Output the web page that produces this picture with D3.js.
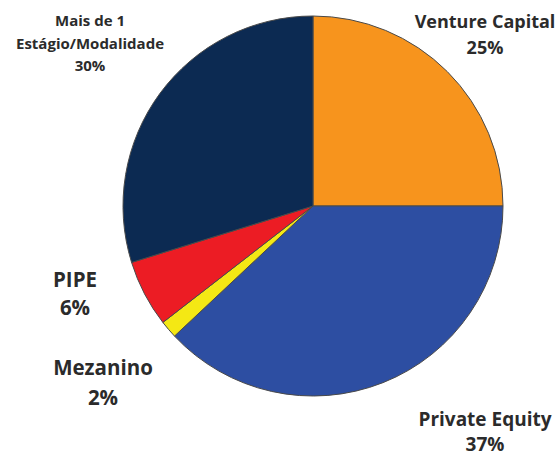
<!DOCTYPE html>
<html>
<head>
<meta charset="utf-8">
<script src="https://cdn.jsdelivr.net/npm/d3@7"></script>
<style>
  body { margin: 0; background: #fff; }
  text { font-family: "Open Sans", sans-serif; font-weight: bold; fill: #2b2b2b; }
</style>
</head>
<body>
<div id="chart"></div>
<script>
  const width = 558;
  const height = 459;

  // slices, clockwise from 12 o'clock
  const categories = ["Venture Capital", "Private Equity", "Mezanino", "PIPE", "Mais de 1 Estágio/Modalidade"];
  const values = [25, 38, 1.5, 5.7, 29.8];
  const percentLabels = ["25%", "37%", "2%", "6%", "30%"];
  const colors = ["#F7941D", "#2D4EA2", "#F4E814", "#EC1C24", "#0C2A52"];

  const cx = 313, cy = 206, radius = 190;

  const svg = d3.select("#chart")
    .append("svg")
    .attr("width", width)
    .attr("height", height);

  const pie = d3.pie().sort(null).value(d => d.value);
  const arc = d3.arc().innerRadius(0).outerRadius(radius);

  const data = categories.map((c, i) => ({ name: c, value: values[i], color: colors[i] }));

  svg.append("g")
    .attr("transform", `translate(${cx},${cy})`)
    .selectAll("path")
    .data(pie(data))
    .enter()
    .append("path")
    .attr("d", arc)
    .attr("fill", d => d.data.color)
    .attr("stroke", "#4a4a4a")
    .attr("stroke-width", 1);

  // label placement (multi-line, centered)
  const labelSpecs = [
    { lines: ["Venture Capital", percentLabels[0]], x: 485, y: 28, size: 18, lh: 26 },
    { lines: ["Private Equity", percentLabels[1]], x: 485, y: 426, size: 19, lh: 25 },
    { lines: ["Mezanino", percentLabels[2]], x: 103, y: 375, size: 20.5, lh: 30 },
    { lines: ["PIPE", percentLabels[3]], x: 75, y: 287, size: 20.5, lh: 28 },
    { lines: ["Mais de 1", "Estágio/Modalidade", percentLabels[4]], x: 90, y: 26, size: 15, lh: 22.5 }
  ];

  labelSpecs.forEach(spec => {
    const t = svg.append("text")
      .attr("text-anchor", "middle")
      .style("font-size", spec.size + "px");
    spec.lines.forEach((line, i) => {
      t.append("tspan")
        .attr("x", spec.x)
        .attr("y", spec.y + i * spec.lh)
        .text(line);
    });
  });
</script>
</body>
</html>
